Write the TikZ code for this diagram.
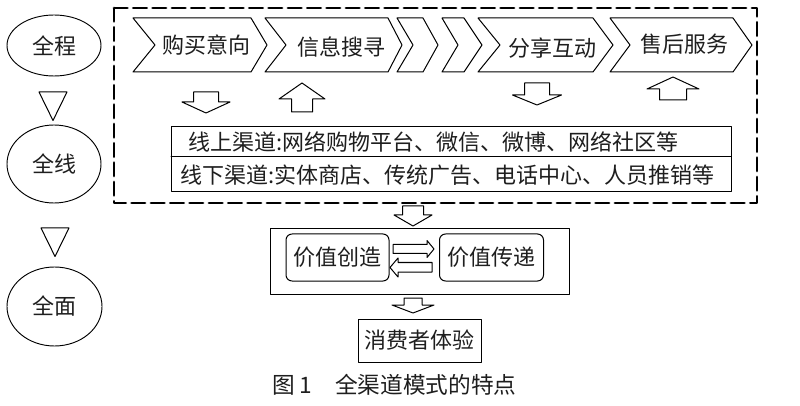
\documentclass[tikz,border=0pt]{standalone}
\usepackage{fontspec}
\setmainfont{Noto Sans CJK SC}
\usepackage{tikz}
\usetikzlibrary{shapes.geometric}
\tikzset{>=latex}
\usepackage{xcolor}
\definecolor{myink}{HTML}{1E1E1E}

\begin{document}
\begin{tikzpicture}[x=0.75pt, y=-0.75pt,
                    line cap=round, line join=round,
                    txt/.style={inner sep=0pt, text=myink, font=\fontsize{16.5}{18}\selectfont},
                    stage/.style={txt, draw, ellipse, line width=0.7pt},
                    cell/.style={txt, draw, rounded corners=4.5pt, line width=0.75pt},
                    hollow/.style={draw, line width=0.75pt, fill=white},
                    dashframe/.style={line width=2.2pt, dash pattern=on 10pt off 4.5pt}]
  \useasboundingbox (0,0) rectangle (800,406);

  % DASHED FRAME
  \draw[dashframe] (114,8) rectangle (757,203);

  % PROCESS CHEVRONS
  \foreach \xl/\xr/\xt/\nd in {133/251/267/22, 265/388/402/21, 397/423/438/16,
                               442/464/482/16, 478/593/613/22, 610/733/752/20}{
    \draw[hollow] (\xl,18) -- (\xr,18) -- (\xt,45) -- (\xr,72) -- (\xl,72) -- (\xl+\nd,45) -- cycle;
  }
  \node[txt] (intent)  at (206,45) {购买意向};
  \node[txt] (search)  at (341,47) {信息搜寻};
  \node[txt] (share)   at (552,48) {分享互动};
  \node[txt] (service) at (684,44) {售后服务};

  % CHANNEL TABLE
  \draw[hollow] (171,127) rectangle (731,192);
  \draw[line width=0.75pt] (171,157) -- (731,157);
  \node[txt, anchor=west] (online)  at (188,142) {线上渠道:网络购物平台、微信、微博、网络社区等};
  \node[txt, anchor=west] (offline) at (180,175) {线下渠道:实体商店、传统广告、电话中心、人员推销等};

  % HOLLOW BLOCK ARROWS (d=1 down, d=-1 up)
  \foreach \cx/\yb/\d/\sw/\hw/\sl/\hl in {206/92/1/12.5/24/10/11, 302/112/-1/10.5/23/13/16,
                                          537/83/1/12.5/24.5/12/10, 673/100/-1/13.5/26/11/12,
                                          413/206/1/10.5/19/9/11, 413/298/1/9/21/7/8}{
    \begin{scope}[shift={(\cx,\yb)}, yscale=\d]
      \draw[hollow] (-\sw,0) -- (\sw,0) -- (\sw,\sl) -- (\hw,\sl) -- (0,\sl+\hl)
                    -- (-\hw,\sl) -- (-\sw,\sl) -- cycle;
    \end{scope}
  }

  % STAGES
  \node[stage, minimum width=70.5pt, minimum height=45.75pt] (whole)  at (54,45.5)  {全程};
  \node[stage, minimum width=70.5pt, minimum height=58.5pt]  (line)   at (54,164)   {全线};
  \node[stage, minimum width=71.25pt, minimum height=59.25pt] (total) at (54.5,306.5) {全面};
  \foreach \tx/\ty in {39/92, 41/228}{
    \draw[hollow] (\tx,\ty) -- (\tx+28,\ty) -- (\tx+14,\ty+28.5) -- cycle;
  }

  % VALUE
  \node[draw, line width=0.75pt, minimum width=224.25pt, minimum height=48.75pt] (value) at (419.5,261.5) {};
  \node[cell, minimum width=77.25pt, minimum height=35.25pt] (create)  at (337.5,257.5) {价值创造};
  \node[cell, minimum width=78pt, minimum height=35.25pt]    (deliver) at (491.5,257.5) {价值传递};
  \draw[hollow] (393,244.5) -- (427,244.5) -- (427,240.5) -- (434,249) -- (427,257.5) -- (427,253.5) -- (393,253.5) -- cycle;
  \draw[hollow] (432,262.5) -- (398,262.5) -- (398,258) -- (390,267.5) -- (398,277) -- (398,272) -- (432,272) -- cycle;

  \node[txt, draw, line width=0.75pt, minimum width=92.25pt, minimum height=32.25pt] (experience) at (419.5,340.5) {消费者体验};

  % CAPTION
  \node[txt, anchor=west, font=\fontsize{17}{19}\selectfont] (caption) at (272,385) {图\hspace{3.75pt}1\hspace{17pt}全渠道模式的特点};
\end{tikzpicture}
\end{document}
